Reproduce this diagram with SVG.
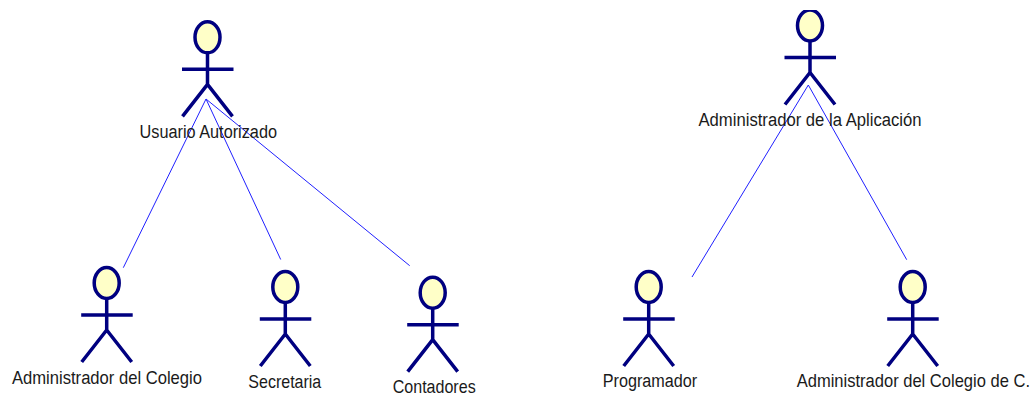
<svg xmlns="http://www.w3.org/2000/svg" width="1033" height="395" viewBox="0 0 1033 395">
<style>
.b{fill:none;stroke:#000080;stroke-width:3.5}
.h{fill:#ffffc8;stroke:#000080;stroke-width:3.5}
.c{fill:none;stroke:#2020ff;stroke-width:1}
.t{font-family:"Liberation Sans",Arial,sans-serif;font-size:18.5px;fill:#1a1a1a}
</style>
<defs>
<clipPath id="top"><rect x="0" y="10" width="1033" height="385"/></clipPath>
<g id="actor">
<ellipse class="h" cx="0" cy="0" rx="12.5" ry="15.5"/>
<path class="b" d="M0 15.5V47M-25.5 32H26M-25 79L0 47L25 79"/>
</g>
</defs>
<rect width="1033" height="395" fill="#fff"/>
<g id="connectors">
<path class="c" d="M206 99L123.3 267.7"/>
<path class="c" d="M206 99L280.7 259.5"/>
<path class="c" d="M206 99L409.7 265.7"/>
<path class="c" d="M808.3 85L692 277"/>
<path class="c" d="M808.3 85L906.7 259.7"/>
</g>
<g id="usuario-autorizado">
<use href="#actor" x="207.5" y="37.3"/>
<text class="t" transform="translate(139.5 138) scale(.9 1)" textLength="152.8" lengthAdjust="spacingAndGlyphs">Usuario Autorizado</text>
</g>
<g id="administrador-aplicacion">
<g clip-path="url(#top)"><use href="#actor" x="810" y="25.5"/></g>
<text class="t" transform="translate(698.5 126) scale(.9 1)" textLength="247.8" lengthAdjust="spacingAndGlyphs">Administrador de la Aplicación</text>
</g>
<g id="administrador-colegio">
<use href="#actor" x="106.7" y="283"/>
<text class="t" transform="translate(12 384) scale(.9 1)" textLength="211.1" lengthAdjust="spacingAndGlyphs">Administrador del Colegio</text>
</g>
<g id="secretaria">
<use href="#actor" x="285.3" y="287"/>
<text class="t" transform="translate(248.3 388) scale(.9 1)" textLength="81.1" lengthAdjust="spacingAndGlyphs">Secretaria</text>
</g>
<g id="contadores">
<use href="#actor" x="432.7" y="292.7"/>
<text class="t" transform="translate(392.7 392.5) scale(.9 1)" textLength="92.2" lengthAdjust="spacingAndGlyphs">Contadores</text>
</g>
<g id="programador">
<use href="#actor" x="648.7" y="287"/>
<text class="t" transform="translate(602.7 387) scale(.9 1)" textLength="105" lengthAdjust="spacingAndGlyphs">Programador</text>
</g>
<g id="administrador-colegio-c">
<use href="#actor" x="912.7" y="287"/>
<text class="t" transform="translate(796.7 387) scale(.9 1)" textLength="259.2" lengthAdjust="spacingAndGlyphs">Administrador del Colegio de C.</text>
</g>
</svg>
